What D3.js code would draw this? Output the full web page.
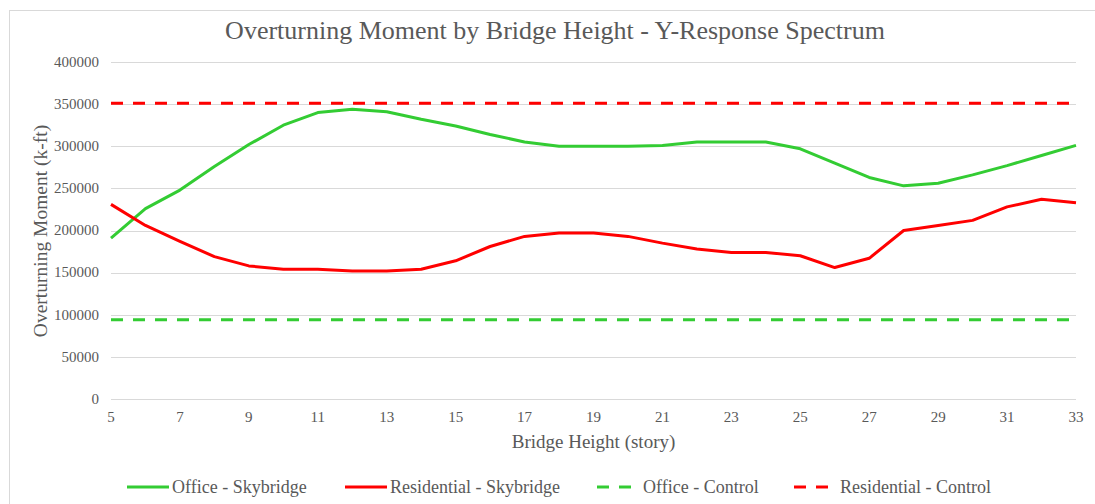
<!DOCTYPE html>
<html>
<head>
<meta charset="utf-8">
<script src="https://cdn.jsdelivr.net/npm/d3@7"></script>
<style>
  body { margin: 0; background: #fff; }
  text { font-family: "Liberation Serif", "Times New Roman", serif; fill: #595959; }
</style>
</head>
<body>
<div id="chart"></div>
<script>
// Data
const stories = d3.range(5, 34);
const officeSky = [191000, 226000, 248000, 276000, 302000, 325000, 340000, 344000, 341000, 332000,
    324000, 314000, 305000, 300000, 300000, 300000, 301000, 305000, 305000, 305000,
    297000, 280000, 263000, 253000, 256000, 266000, 277000, 289000, 301000];
const residentialSky = [231000, 206000, 187000, 169000, 158000, 154000, 154000, 152000, 152000, 154000,
    164000, 181000, 193000, 197000, 197000, 193000, 185000, 178000, 174000, 174000,
    170000, 156000, 167000, 200000, 206000, 212000, 228000, 237000, 233000];
const officeControl = 94000;
const residentialControl = 351000;
const xTicks = d3.range(5, 34, 2);
const yTicks = d3.range(0, 400001, 50000);

const width = 1095, height = 504;
const margin = {left: 111, right: 19, top: 62, bottom: 105};

const svg = d3.select("#chart").append("svg")
    .attr("width", width)
    .attr("height", height);

// chart border
svg.append("rect")
    .attr("x", 9.5).attr("y", 10.5)
    .attr("width", width).attr("height", height)
    .attr("fill", "none")
    .attr("stroke", "#d9d9d9");

const x = d3.scaleLinear().domain([5, 33]).range([margin.left, width - margin.right]);
const y = d3.scaleLinear().domain([0, 400000]).range([height - margin.bottom, margin.top]);

// gridlines
svg.append("g")
    .selectAll("line")
    .data(yTicks)
    .enter()
    .append("line")
    .attr("x1", x(5))
    .attr("x2", x(33))
    .attr("y1", d => Math.round(y(d)) + 0.5)
    .attr("y2", d => Math.round(y(d)) + 0.5)
    .attr("stroke", "#d9d9d9")
    .attr("stroke-width", 1);

// y tick labels
svg.append("g")
    .selectAll("text")
    .data(yTicks)
    .enter()
    .append("text")
    .attr("x", x(5) - 12)
    .attr("y", d => y(d))
    .attr("dy", "0.32em")
    .attr("text-anchor", "end")
    .attr("font-size", 15)
    .text(d => d);

// x tick labels
svg.append("g")
    .selectAll("text")
    .data(xTicks)
    .enter()
    .append("text")
    .attr("x", d => x(d))
    .attr("y", 422)
    .attr("text-anchor", "middle")
    .attr("font-size", 15)
    .text(d => d);

// titles
svg.append("text")
    .attr("x", 555).attr("y", 39)
    .attr("text-anchor", "middle")
    .attr("font-size", 26)
    .text("Overturning Moment by Bridge Height - Y-Response Spectrum");

svg.append("text")
    .attr("x", (x(5) + x(33)) / 2).attr("y", 448)
    .attr("text-anchor", "middle")
    .attr("font-size", 19)
    .text("Bridge Height (story)");

svg.append("text")
    .attr("transform", "translate(47,231) rotate(-90)")
    .attr("text-anchor", "middle")
    .attr("font-size", 19.5)
    .text("Overturning Moment (k-ft)");

const green = "#33cc33", red = "#ff0000";

const series = [
    {name: "Office - Skybridge", color: green, values: officeSky, dash: null},
    {name: "Residential - Skybridge", color: red, values: residentialSky, dash: null},
    {name: "Office - Control", color: green, values: stories.map(() => officeControl), dash: "12,10"},
    {name: "Residential - Control", color: red, values: stories.map(() => residentialControl), dash: "12,10"}
];

const line = d3.line()
    .x((d, i) => x(stories[i]))
    .y(d => y(d));

// draw control lines first, then skybridge lines
[series[2], series[3], series[0], series[1]].forEach(s => {
    svg.append("path")
        .datum(s.values)
        .attr("d", line)
        .attr("fill", "none")
        .attr("stroke", s.color)
        .attr("stroke-width", 3)
        .attr("stroke-linejoin", "round")
        .attr("stroke-dasharray", s.dash);
});

// legend
const legendX = [127, 345, 597, 794];
const legend = svg.append("g");
series.forEach((s, i) => {
    const g = legend.append("g").attr("transform", `translate(${legendX[i]},487)`);
    if (s.dash) {
        g.append("line").attr("x1", 0).attr("x2", 12).attr("stroke", s.color).attr("stroke-width", 3);
        g.append("line").attr("x1", 22).attr("x2", 34).attr("stroke", s.color).attr("stroke-width", 3);
    } else {
        g.append("line").attr("x1", 0).attr("x2", 42).attr("stroke", s.color).attr("stroke-width", 3);
    }
    g.append("text")
        .attr("x", s.dash ? 46 : 45)
        .attr("dy", "0.33em")
        .attr("font-size", 18)
        .text(s.name);
});
</script>
</body>
</html>
